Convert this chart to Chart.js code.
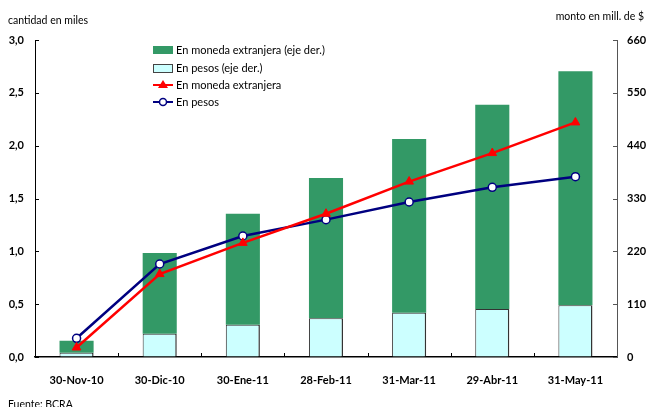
<!DOCTYPE html>
<html>
<head>
<meta charset="utf-8">
<script src="https://cdn.jsdelivr.net/npm/chart.js@4"></script>
<style>
html,body{margin:0;padding:0;background:#fff;}
#wrap{width:646px;height:407px;position:relative;}
</style>
</head>
<body>
<div id="wrap"><canvas id="c" width="646" height="407"></canvas></div>
<script>
// ---- data ----
const categories = ["30-Nov-10","30-Dic-10","30-Ene-11","28-Feb-11","31-Mar-11","29-Abr-11","31-May-11"];
// montos (eje derecho, mill. de $)
const montoPesos = [9, 48.5, 67, 80.5, 92, 100, 108];
const montoMonedaExtranjera = [25, 168, 231, 292, 362, 425, 487];
// cantidades (eje izquierdo, miles)
const cantidadMonedaExtranjera = [0.09, 0.785, 1.08, 1.356, 1.66, 1.93, 2.22];
const cantidadPesos = [0.177, 0.88, 1.145, 1.30, 1.467, 1.606, 1.706];
const leftTicks = [0, 0.5, 1.0, 1.5, 2.0, 2.5, 3.0];
const rightTicks = [0, 110, 220, 330, 440, 550, 660];
const legendLabels = ["En moneda extranjera (eje der.)","En pesos (eje der.)","En moneda extranjera","En pesos"];

const FONT = "Lato, 'Open Sans', sans-serif";
const GREEN = "#339966", CYAN = "#CCFFFF", RED = "#FF0000", NAVY = "#000080";

const decorPlugin = {
  id: 'decor',
  afterDatasetsDraw(chart) {
    const ctx = chart.ctx;
    const ca = chart.chartArea;
    const x = chart.scales.x, y = chart.scales.y, y2 = chart.scales.y2;
    ctx.save();
    ctx.lineWidth = 1;
    ctx.strokeStyle = '#000';
    y.ticks.forEach(t => {
      const py = Math.round(y.getPixelForValue(t.value)) + 0.5;
      ctx.beginPath(); ctx.moveTo(ca.left, py); ctx.lineTo(ca.left + 4, py); ctx.stroke();
    });
    ctx.strokeStyle = '#555';
    y2.ticks.forEach(t => {
      const py = Math.round(y2.getPixelForValue(t.value)) + 0.5;
      ctx.beginPath(); ctx.moveTo(ca.right - 4, py); ctx.lineTo(ca.right, py); ctx.stroke();
    });
    ctx.strokeStyle = '#000';
    for (let i = 0; i < categories.length - 1; i++) {
      const px = Math.round((x.getPixelForValue(i) + x.getPixelForValue(i + 1)) / 2) + 0.5;
      ctx.beginPath(); ctx.moveTo(px, ca.bottom); ctx.lineTo(px, ca.bottom - 4); ctx.stroke();
    }
    ctx.restore();
  },
  afterDraw(chart) {
    const ctx = chart.ctx;
    ctx.save();
    ctx.fillStyle = '#000';
    ctx.font = "10.5px " + FONT;
    ctx.textBaseline = 'middle';
    ctx.textAlign = 'left';
    ctx.fillText("cantidad en miles", 8, 21);
    ctx.textAlign = 'right';
    ctx.fillText("monto en mill. de $", 644, 17);
    ctx.textAlign = 'left';
    ctx.textBaseline = 'top';
    ctx.fillText("Fuente: BCRA", 8, 399);

    const lx = 153, rows = [50, 68, 85, 102];
    ctx.font = "11px " + FONT;
    ctx.textBaseline = 'middle';
    ctx.fillStyle = GREEN;
    ctx.fillRect(lx, rows[0] - 4, 20, 8);
    ctx.fillStyle = CYAN;
    ctx.fillRect(lx, rows[1] - 4, 19, 8);
    ctx.strokeStyle = '#444'; ctx.lineWidth = 1;
    ctx.strokeRect(lx + 0.5, rows[1] - 4 + 0.5, 19, 8);
    ctx.strokeStyle = RED; ctx.lineWidth = 2;
    ctx.beginPath(); ctx.moveTo(lx, rows[2]); ctx.lineTo(lx + 20, rows[2]); ctx.stroke();
    ctx.fillStyle = RED;
    ctx.beginPath(); ctx.moveTo(lx + 10, rows[2] - 5); ctx.lineTo(lx + 15, rows[2] + 3); ctx.lineTo(lx + 5, rows[2] + 3); ctx.closePath(); ctx.fill();
    ctx.strokeStyle = NAVY; ctx.lineWidth = 2;
    ctx.beginPath(); ctx.moveTo(lx, rows[3]); ctx.lineTo(lx + 20, rows[3]); ctx.stroke();
    ctx.fillStyle = '#fff'; ctx.lineWidth = 1.5;
    ctx.beginPath(); ctx.arc(lx + 10, rows[3], 3.5, 0, Math.PI * 2); ctx.fill(); ctx.stroke();
    ctx.fillStyle = '#000';
    legendLabels.forEach((t, i) => ctx.fillText(t, lx + 23, rows[i] + 0.5));
    ctx.restore();
  }
};

new Chart(document.getElementById('c'), {
  type: 'bar',
  data: {
    labels: categories,
    datasets: [
      { type: 'bar', label: legendLabels[1], data: montoPesos, yAxisID: 'y2', backgroundColor: CYAN,
        borderColor: '#333', borderWidth: {top: 1, left: 1, right: 1.5, bottom: 0}, order: 3, stack: 's' },
      { type: 'bar', label: legendLabels[0], data: montoMonedaExtranjera, yAxisID: 'y2', backgroundColor: GREEN,
        borderWidth: 0, order: 4, stack: 's' },
      { type: 'line', label: legendLabels[3], data: cantidadPesos, yAxisID: 'y', borderColor: NAVY, borderWidth: 2.5,
        pointStyle: 'circle', pointRadius: 4, pointBackgroundColor: '#fff', pointBorderColor: NAVY, pointBorderWidth: 1.5,
        tension: 0, order: 2 },
      { type: 'line', label: legendLabels[2], data: cantidadMonedaExtranjera, yAxisID: 'y', borderColor: RED, borderWidth: 2.5,
        pointStyle: 'triangle', pointRadius: 5, pointBackgroundColor: RED, pointBorderColor: RED, pointBorderWidth: 1,
        tension: 0, order: 1 }
    ]
  },
  options: {
    responsive: false,
    animation: false,
    devicePixelRatio: 1,
    layout: { padding: { top: 40, left: 0, right: 0, bottom: 0 } },
    plugins: { legend: { display: false }, tooltip: { enabled: false } },
    datasets: { bar: { categoryPercentage: 1, barPercentage: 0.41 } },
    scales: {
      x: {
        stacked: true,
        offset: true,
        grid: { display: false, drawOnChartArea: false, drawTicks: false },
        border: { display: true, color: '#000', width: 1.5 },
        ticks: { color: '#000', font: { family: FONT, size: 11, weight: 'bold' }, padding: 17, maxRotation: 0, autoSkip: false },
        afterFit(s) { s.height = 50; }
      },
      y: {
        position: 'left',
        min: 0, max: 3,
        stacked: false,
        afterBuildTicks(s) { s.ticks = leftTicks.map(v => ({ value: v })); },
        grid: { drawOnChartArea: false, drawTicks: false },
        border: { display: true, color: '#000', width: 1 },
        ticks: { color: '#000', font: { family: FONT, size: 11, weight: 'bold' }, padding: 11,
          callback: v => v.toFixed(1).replace('.', ',') },
        afterFit(s) { s.width = 35; }
      },
      y2: {
        position: 'right',
        min: 0, max: 660,
        stacked: true,
        afterBuildTicks(s) { s.ticks = rightTicks.map(v => ({ value: v })); },
        grid: { drawOnChartArea: false, drawTicks: false },
        border: { display: true, color: '#555', width: 1 },
        ticks: { color: '#000', font: { family: FONT, size: 11, weight: 'bold' }, padding: 10,
          callback: v => String(v) },
        afterFit(s) { s.width = 29; }
      }
    }
  },
  plugins: [decorPlugin]
});
</script>
</body>
</html>
